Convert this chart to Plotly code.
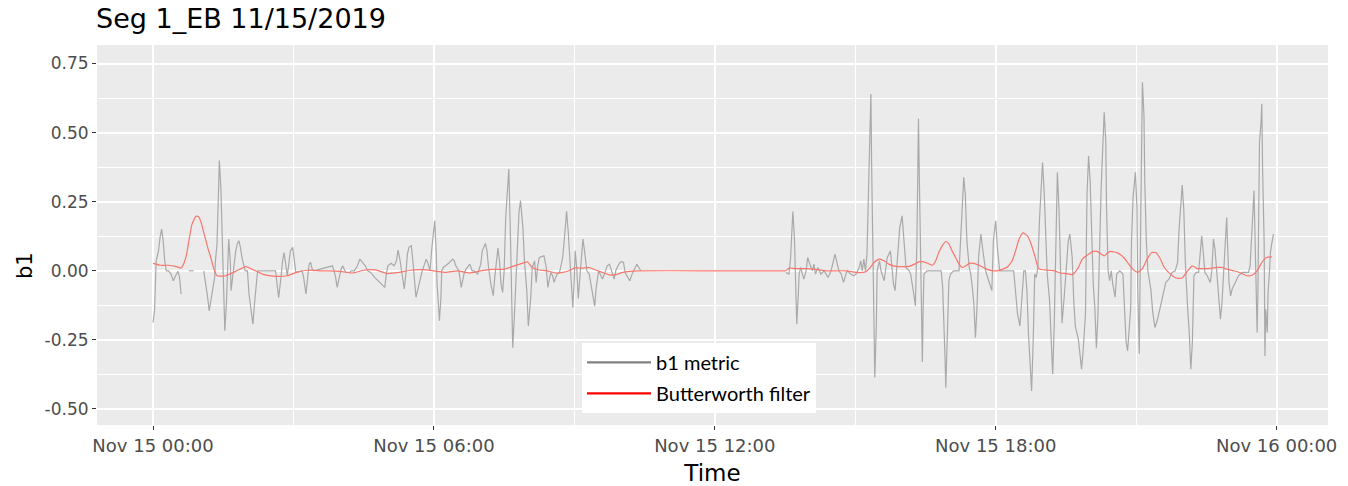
import pandas as pd
import plotly.graph_objects as go

DAY = pd.Timestamp("2019-11-15")

# b1 metric: minutes after midnight and value (None breaks the trace)
b1_minutes = [
    0, 2, 4, 7, 9, 11, 13, 15, 17, 20, 23, 26, 29, 32, 34, 36, 38,
    46, 52, 53,
    65, 68, 70, 72, 74, 77, 79, 80, 82, 84, 85, 87, 89, 90, 91, 92, 94, 96, 97, 99,
    100, 102, 104, 106, 108, 110, 112, 114, 118, 121, 123, 126, 128, 130, 132, 134,
    157, 159, 161, 164, 166, 168, 170, 172, 174, 176, 179, 181, 183, 191, 193, 196,
    198, 200, 202, 204, 206, 230, 232, 234, 236, 239, 241, 243, 245, 247, 252, 254,
    258, 262, 265, 269, 272, 275, 279, 284, 290, 294, 297, 299, 301, 305, 309, 312,
    314, 316, 319, 322, 324, 326, 328, 331, 333, 335, 337, 339, 341, 345, 348, 350,
    352, 355, 357, 359, 361, 363, 364, 366, 367, 369, 370, 372, 375, 380, 384, 386,
    388, 392, 395, 397, 399, 401, 404, 406, 409, 412, 416, 420, 422, 426, 428, 430,
    433, 436, 438, 440, 442, 444, 446, 448, 450, 452, 454, 456, 458, 460, 461, 463,
    465, 467, 469, 471, 474, 476, 479, 481, 484, 486, 489, 491, 493, 495, 497, 501,
    504, 506, 508, 510, 512, 514, 516, 518, 521, 525, 527, 528, 530, 532, 534, 536,
    538, 540, 541, 543, 545, 547, 549, 551, 553, 556, 559, 561, 563, 566, 568, 571,
    574, 576, 580, 582, 585, 588, 591, 593, 597, 600, 603, 605, 608, 611, 614, 617,
    620, 623, 625, 626,
    811, 815, 817, 819, 820, 822, 824, 825, 827, 828, 830, 832, 834, 837, 839, 841,
    843, 845, 847, 849, 852, 856, 860, 865, 869, 872, 874, 876, 879, 882, 885, 888,
    890, 894, 898, 901, 905, 907, 909, 911, 913, 915, 918, 920, 921, 923, 924, 925,
    927, 928, 931, 933, 937, 939, 941, 945, 947, 949, 951, 953, 955, 957, 960, 961,
    963, 965, 969, 971, 975, 977, 979, 980, 981, 982, 984, 985, 986, 987, 988, 992,
    1001, 1010, 1012, 1014, 1015, 1016, 1018, 1020, 1022, 1026, 1033, 1035, 1037, 1039,
    1041, 1043, 1046, 1048, 1050, 1052, 1054, 1056, 1058, 1061, 1063, 1067, 1071, 1075,
    1077, 1080, 1082, 1085, 1103, 1105, 1108, 1111, 1114, 1116, 1118, 1120, 1122, 1124,
    1126, 1128, 1130, 1132, 1134, 1136, 1138, 1140, 1142, 1144, 1146, 1149, 1151, 1153,
    1155, 1157, 1159, 1161, 1163, 1165, 1168, 1171, 1173, 1175, 1178, 1180, 1182, 1186,
    1190, 1192, 1195, 1197, 1199, 1201, 1203, 1205, 1207, 1209, 1211, 1213, 1215, 1217,
    1219, 1221, 1222, 1224, 1226, 1228, 1230, 1233, 1235, 1239, 1243, 1245, 1247, 1249,
    1251, 1253, 1254, 1256, 1259, 1261, 1262, 1264, 1266, 1267, 1268, 1270, 1271, 1273,
    1275, 1277, 1279, 1281, 1284, 1287, 1291, 1295, 1298, 1302, 1306, 1310, 1313, 1315,
    1317, 1319, 1321, 1323, 1326, 1328, 1330, 1332, 1334, 1337, 1340, 1342, 1344, 1346,
    1348, 1351, 1355, 1357, 1359, 1361, 1364, 1366, 1368, 1370, 1372, 1374, 1376, 1377,
    1379, 1381, 1383, 1387, 1391, 1396, 1404, 1406, 1408, 1410, 1411, 1412, 1414, 1415,
    1416, 1417, 1418, 1420, 1421, 1422, 1424, 1425, 1426, 1428, 1429, 1431, 1432, 1434,
    1436,
]
b1_values = [
    -0.187, -0.14, 0.036, 0.072, 0.121, 0.151, 0.109, 0.036, 0.0, 0.0, -0.012, -0.036,
    -0.018, -0.002, -0.024, -0.084, None,
    0.0, 0.0, None,
    0.0, -0.05, -0.096, -0.145, -0.109, -0.072, -0.024, 0.036, 0.097, 0.296, 0.399,
    0.296, 0.097, -0.05, -0.109, -0.217, -0.121, 0.036, 0.115, 0.036,
    -0.072, -0.024, 0.036, 0.072, 0.097, 0.109, 0.085, 0.048, 0.0, 0.0, -0.084, -0.145,
    -0.193, -0.121, -0.048, 0.0,
    0.0, -0.048, -0.097, -0.024, 0.036, 0.066, 0.024, -0.018, 0.024, 0.072, 0.085, 0.036,
    -0.006, 0.0, -0.024, -0.084,
    -0.024, 0.024, 0.03, 0.006, 0.0, 0.018, 0.0, -0.024, -0.06, -0.018, 0.006, 0.018,
    0.006, -0.006, -0.006, 0.0,
    0.0, 0.018, 0.042, 0.03, 0.018, 0.0, -0.006, -0.024, -0.042, -0.054, -0.06, -0.012,
    0.018, 0.027, 0.018, 0.036,
    0.075, 0.048, -0.012, -0.066, -0.012, 0.06, 0.085, 0.091, 0.036, -0.024, -0.096,
    -0.072, -0.048, 0.0, 0.024, 0.042,
    0.03, 0.0, 0.072, 0.127, 0.181, 0.06, -0.048, -0.133, -0.181, -0.096, 0.0, 0.012,
    0.018, 0.03, 0.042, 0.036,
    0.018, 0.0, -0.06, -0.036, -0.006, 0.006, 0.018, 0.024, 0.0, 0.0, -0.012, 0.024,
    0.072, 0.099, 0.072, 0.012,
    -0.048, -0.09, -0.024, 0.042, 0.082, 0.036, -0.048, -0.078, 0.0, 0.193, 0.278, 0.368,
    0.133, -0.109, -0.278, -0.169,
    -0.036, 0.127, 0.211, 0.254, 0.157, 0.036, -0.072, -0.2, -0.1, 0.012, 0.036, -0.042,
    0.018, 0.048, 0.051, 0.054,
    0.012, -0.06, -0.03, -0.006, -0.018, -0.042, -0.024, -0.012, -0.006, 0.048, 0.109,
    0.157, 0.215, 0.145, 0.036, -0.072,
    -0.133, -0.024, 0.072, 0.012, -0.1, -0.024, 0.048, 0.115, 0.072, 0.0, -0.012, -0.048,
    -0.084, -0.127, -0.06, 0.0,
    -0.018, -0.03, 0.0, 0.018, 0.024, 0.0, -0.03, 0.0, 0.024, 0.034, 0.03, -0.006,
    -0.024, -0.036, -0.012, 0.006,
    0.024, 0.01, 0.0, None,
    -0.006, -0.012, 0.042, 0.157, 0.214, 0.12, -0.084, -0.193, -0.084, -0.012, 0.012,
    -0.012, -0.03, 0.0, 0.048, 0.03,
    0.012, 0.0, 0.024, -0.012, 0.012, -0.012, 0.0, -0.024, 0.0, 0.036, 0.06, 0.036, 0.0,
    -0.012, -0.042, -0.012,
    0.0, -0.012, -0.018, -0.012, 0.012, 0.036, 0.0, 0.042, 0.0, 0.06, 0.459, 0.64, 0.374,
    -0.012, -0.254, -0.386,
    -0.193, 0.0, 0.036, 0.0, -0.036, 0.012, 0.048, 0.072, 0.0, -0.048, -0.072, 0.0, 0.06,
    0.157, 0.199, 0.157,
    0.06, 0.012, 0.0, -0.012, -0.085, -0.127, 0.109, 0.374, 0.55, 0.35, -0.012, -0.23,
    -0.33, -0.133, -0.012, 0.0,
    0.0, 0.0, -0.06, -0.193, -0.314, -0.423, -0.193, -0.036, -0.012, 0.0, 0.0, 0.109,
    0.254, 0.338,
    0.278, 0.109, 0.012, -0.012, -0.06, -0.12, -0.242, -0.133, 0.048, 0.133, 0.085, 0.0,
    -0.036, -0.072,
    0.109, 0.181, 0.085, 0.0, 0.0, -0.072, -0.157, -0.2, -0.072, 0.0, 0.0, -0.072, -0.23,
    -0.362,
    -0.435, -0.254, -0.012, -0.024, 0.012, 0.181, 0.314, 0.392, 0.29, 0.109, -0.012,
    -0.109, -0.254, -0.374,
    -0.193, 0.109, 0.356, 0.229, -0.012, -0.19, -0.085, 0.048, 0.109, 0.133, 0.048,
    -0.109, -0.2, -0.25,
    -0.356, -0.29, -0.157, 0.278, 0.415, 0.326, 0.109, -0.048, -0.133, -0.28, -0.157,
    0.109, 0.29, 0.435,
    0.574, 0.471, 0.229, 0.0, -0.036, 0.0, -0.048, -0.095, -0.012, 0.0, -0.012, -0.133,
    -0.254, -0.29,
    -0.217, -0.133, 0.109, 0.266, 0.356, 0.229, -0.072, -0.3, 0.229, 0.531, 0.682, 0.562,
    0.326, 0.109,
    0.0, -0.036, -0.072, -0.145, -0.205, -0.18, -0.133, -0.078, -0.042, -0.03, -0.006,
    0.0, 0.03, 0.151,
    0.248, 0.31, 0.223, 0.03, -0.139, -0.223, -0.356, -0.26, -0.018, -0.006, -0.006,
    0.066, 0.127, 0.066,
    -0.006, -0.018, -0.042, 0.0, 0.115, 0.078, -0.018, -0.091, -0.175, -0.115, -0.018,
    0.115, 0.193, 0.103,
    -0.042, -0.091, -0.066, -0.042, -0.018, -0.006, -0.006, 0.018, 0.139, 0.211, 0.29,
    0.163, -0.091, -0.223,
    -0.079, 0.284, 0.465, 0.537, 0.604, 0.368, 0.103, -0.308, -0.139, -0.223, -0.079,
    0.006, 0.066, 0.103,
    0.133,
]

# Butterworth-filtered b1: minutes after midnight and value
bw_minutes = [
    0, 10, 20, 30, 36, 40, 43, 46, 50, 55, 58, 61, 65, 70, 74, 78, 82, 93, 106, 119,
    129, 142, 157, 172, 185, 198, 215, 240, 255, 270, 285, 300, 315, 330, 345, 360,
    375, 390, 405, 420, 435, 450, 460, 470, 480, 486, 495, 505, 516, 525, 533, 540,
    550, 559, 568, 576, 585, 593, 602, 610, 623, 700, 800, 811, 815, 824, 837, 849,
    862, 888, 901, 913, 918, 924, 931, 937, 943, 952, 969, 976, 982, 986, 992, 999,
    1003, 1007, 1012, 1016, 1020, 1024, 1029, 1033, 1037, 1042, 1046, 1052, 1057, 1063,
    1069, 1076, 1082, 1089, 1095, 1101, 1106, 1110, 1115, 1120, 1125, 1130, 1135, 1146,
    1155, 1163, 1170, 1178, 1185, 1191, 1199, 1205, 1210, 1214, 1219, 1223, 1227, 1232,
    1236, 1240, 1244, 1249, 1253, 1258, 1262, 1268, 1274, 1280, 1285, 1290, 1296, 1304,
    1312, 1319, 1326, 1332, 1338, 1347, 1355, 1364, 1370, 1377, 1385, 1394, 1402, 1409,
    1415, 1421, 1427, 1434,
]
bw_values = [
    0.027, 0.02, 0.02, 0.015, 0.01, 0.03, 0.06, 0.109, 0.169, 0.197, 0.196, 0.181,
    0.139, 0.085, 0.048, 0.006, -0.018, -0.018, -0.002, 0.015,
    0.003, -0.014, -0.02, -0.018, -0.005, 0.002, 0.0, -0.002, -0.008, 0.002, 0.003,
    -0.01, -0.006, 0.002, 0.004, 0.0,
    -0.006, 0.0, -0.008, 0.0, 0.005, 0.006, 0.015, 0.024, 0.032, 0.012, 0.003, 0.0,
    -0.008, -0.006, 0.0, 0.01,
    0.01, 0.012, 0.002, -0.006, -0.015, -0.014, -0.006, -0.002, 0.0, 0.0, 0.0, 0.0,
    0.01, 0.008, 0.008, 0.005,
    0.0, 0.0, -0.006, -0.004, 0.008, 0.03, 0.042, 0.036, 0.024, 0.016, 0.016, 0.024,
    0.033, 0.033, 0.028, 0.02,
    0.036, 0.066, 0.093, 0.106, 0.097, 0.072, 0.046, 0.024, 0.012, 0.018, 0.027, 0.027,
    0.022, 0.014,
    0.005, 0.0, 0.0, 0.006, 0.014, 0.036, 0.078, 0.115, 0.137, 0.128, 0.1, 0.055, 0.008,
    0.002,
    0.0, -0.008, -0.01, -0.014, 0.008, 0.042, 0.06, 0.07, 0.07, 0.063, 0.054, 0.064,
    0.07, 0.068,
    0.065, 0.058, 0.048, 0.03, 0.015, 0.0, -0.006, 0.008, 0.042, 0.066, 0.066, 0.048,
    0.012, -0.012,
    -0.027, -0.026, 0.0, 0.018, 0.008, 0.008, 0.009, 0.012, 0.012, 0.005, 0.0, -0.008,
    -0.018, -0.015,
    0.0, 0.03, 0.048, 0.05,
]

y_tick_values = [-0.5, -0.25, 0.0, 0.25, 0.5, 0.75]
y_tick_labels = ["-0.50", "-0.25", "0.00", "0.25", "0.50", "0.75"]


def clock(minutes):
    return DAY + pd.to_timedelta(minutes, unit="m")


TICK_FONT = dict(family="DejaVu Sans", size=17, color="#4D4D4D")
X_TICK_FONT = dict(family="DejaVu Sans", size=18, color="#4D4D4D")
HOUR_MS = 3600 * 1000

fig = go.Figure()

fig.add_trace(go.Scatter(
    x=clock(b1_minutes), y=b1_values, mode="lines", connectgaps=False,
    line=dict(color="#A9A9A9", width=1.2),
    showlegend=False, hoverinfo="x+y",
))
fig.add_trace(go.Scatter(
    x=clock(bw_minutes), y=bw_values, mode="lines",
    line=dict(color="#F8766D", width=1.2, shape="spline", smoothing=0.5),
    showlegend=False, hoverinfo="x+y",
))

# legend entries
fig.add_trace(go.Scatter(
    x=[None], y=[None], mode="lines", name="b1 metric", legendgroup="a",
    line=dict(color="#808080", width=2.2),
))
fig.add_trace(go.Scatter(
    x=[None], y=[None], mode="lines", name="Butterworth filter", legendgroup="b",
    line=dict(color="#FF0000", width=2.2),
))

fig.update_layout(
    width=1348, height=486,
    margin=dict(l=97, r=20, t=45, b=61, autoexpand=False),
    paper_bgcolor="white",
    plot_bgcolor="#EBEBEB",
    title=dict(
        text="Seg 1_EB 11/15/2019",
        font=dict(family="DejaVu Sans", size=27, color="black"),
        x=96 / 1348, xanchor="left", xref="container",
        y=1 - 19 / 486, yanchor="middle", yref="container",
    ),
    legend=dict(
        x=0.394, y=0.216, xanchor="left", yanchor="top",
        bgcolor="white", borderwidth=0,
        font=dict(family="Lato", size=20, color="black"),
        itemwidth=64, tracegroupgap=2,
    ),
    xaxis=dict(
        type="date",
        range=["2019-11-14 22:48:12", "2019-11-16 01:05:50"],
        tickmode="linear", tick0="2019-11-15 00:00", dtick=6 * HOUR_MS,
        tickformat="%b %d %H:%M",
        tickfont=X_TICK_FONT,
        ticks="outside", ticklen=4, tickwidth=1, tickcolor="#333333",
        showgrid=True, gridcolor="white", gridwidth=1.6,
        minor=dict(dtick=3 * HOUR_MS, tick0="2019-11-15 00:00", showgrid=True,
                   gridcolor="white", gridwidth=0.8),
        showline=False, zeroline=False, automargin=False,
        title=dict(text="Time", font=dict(family="DejaVu Sans", size=23, color="black"),
                   standoff=10),
    ),
    yaxis=dict(
        range=[-0.558, 0.817],
        tickmode="array", tickvals=y_tick_values, ticktext=y_tick_labels,
        tickfont=TICK_FONT,
        ticks="outside", ticklen=4, tickwidth=1, tickcolor="#333333",
        showgrid=True, gridcolor="white", gridwidth=1.6,
        minor=dict(tickmode="linear", dtick=0.125, tick0=0.0, showgrid=True,
                   gridcolor="white", gridwidth=0.8),
        showline=False, zeroline=False, automargin=False,
    ),
    annotations=[dict(
        text="b1", textangle=-90,
        xref="paper", x=-0.058, xanchor="center",
        yref="paper", y=0.42, yanchor="middle",
        showarrow=False,
        font=dict(family="DejaVu Sans", size=21, color="black"),
    )],
)

fig.write_html("out.html")
